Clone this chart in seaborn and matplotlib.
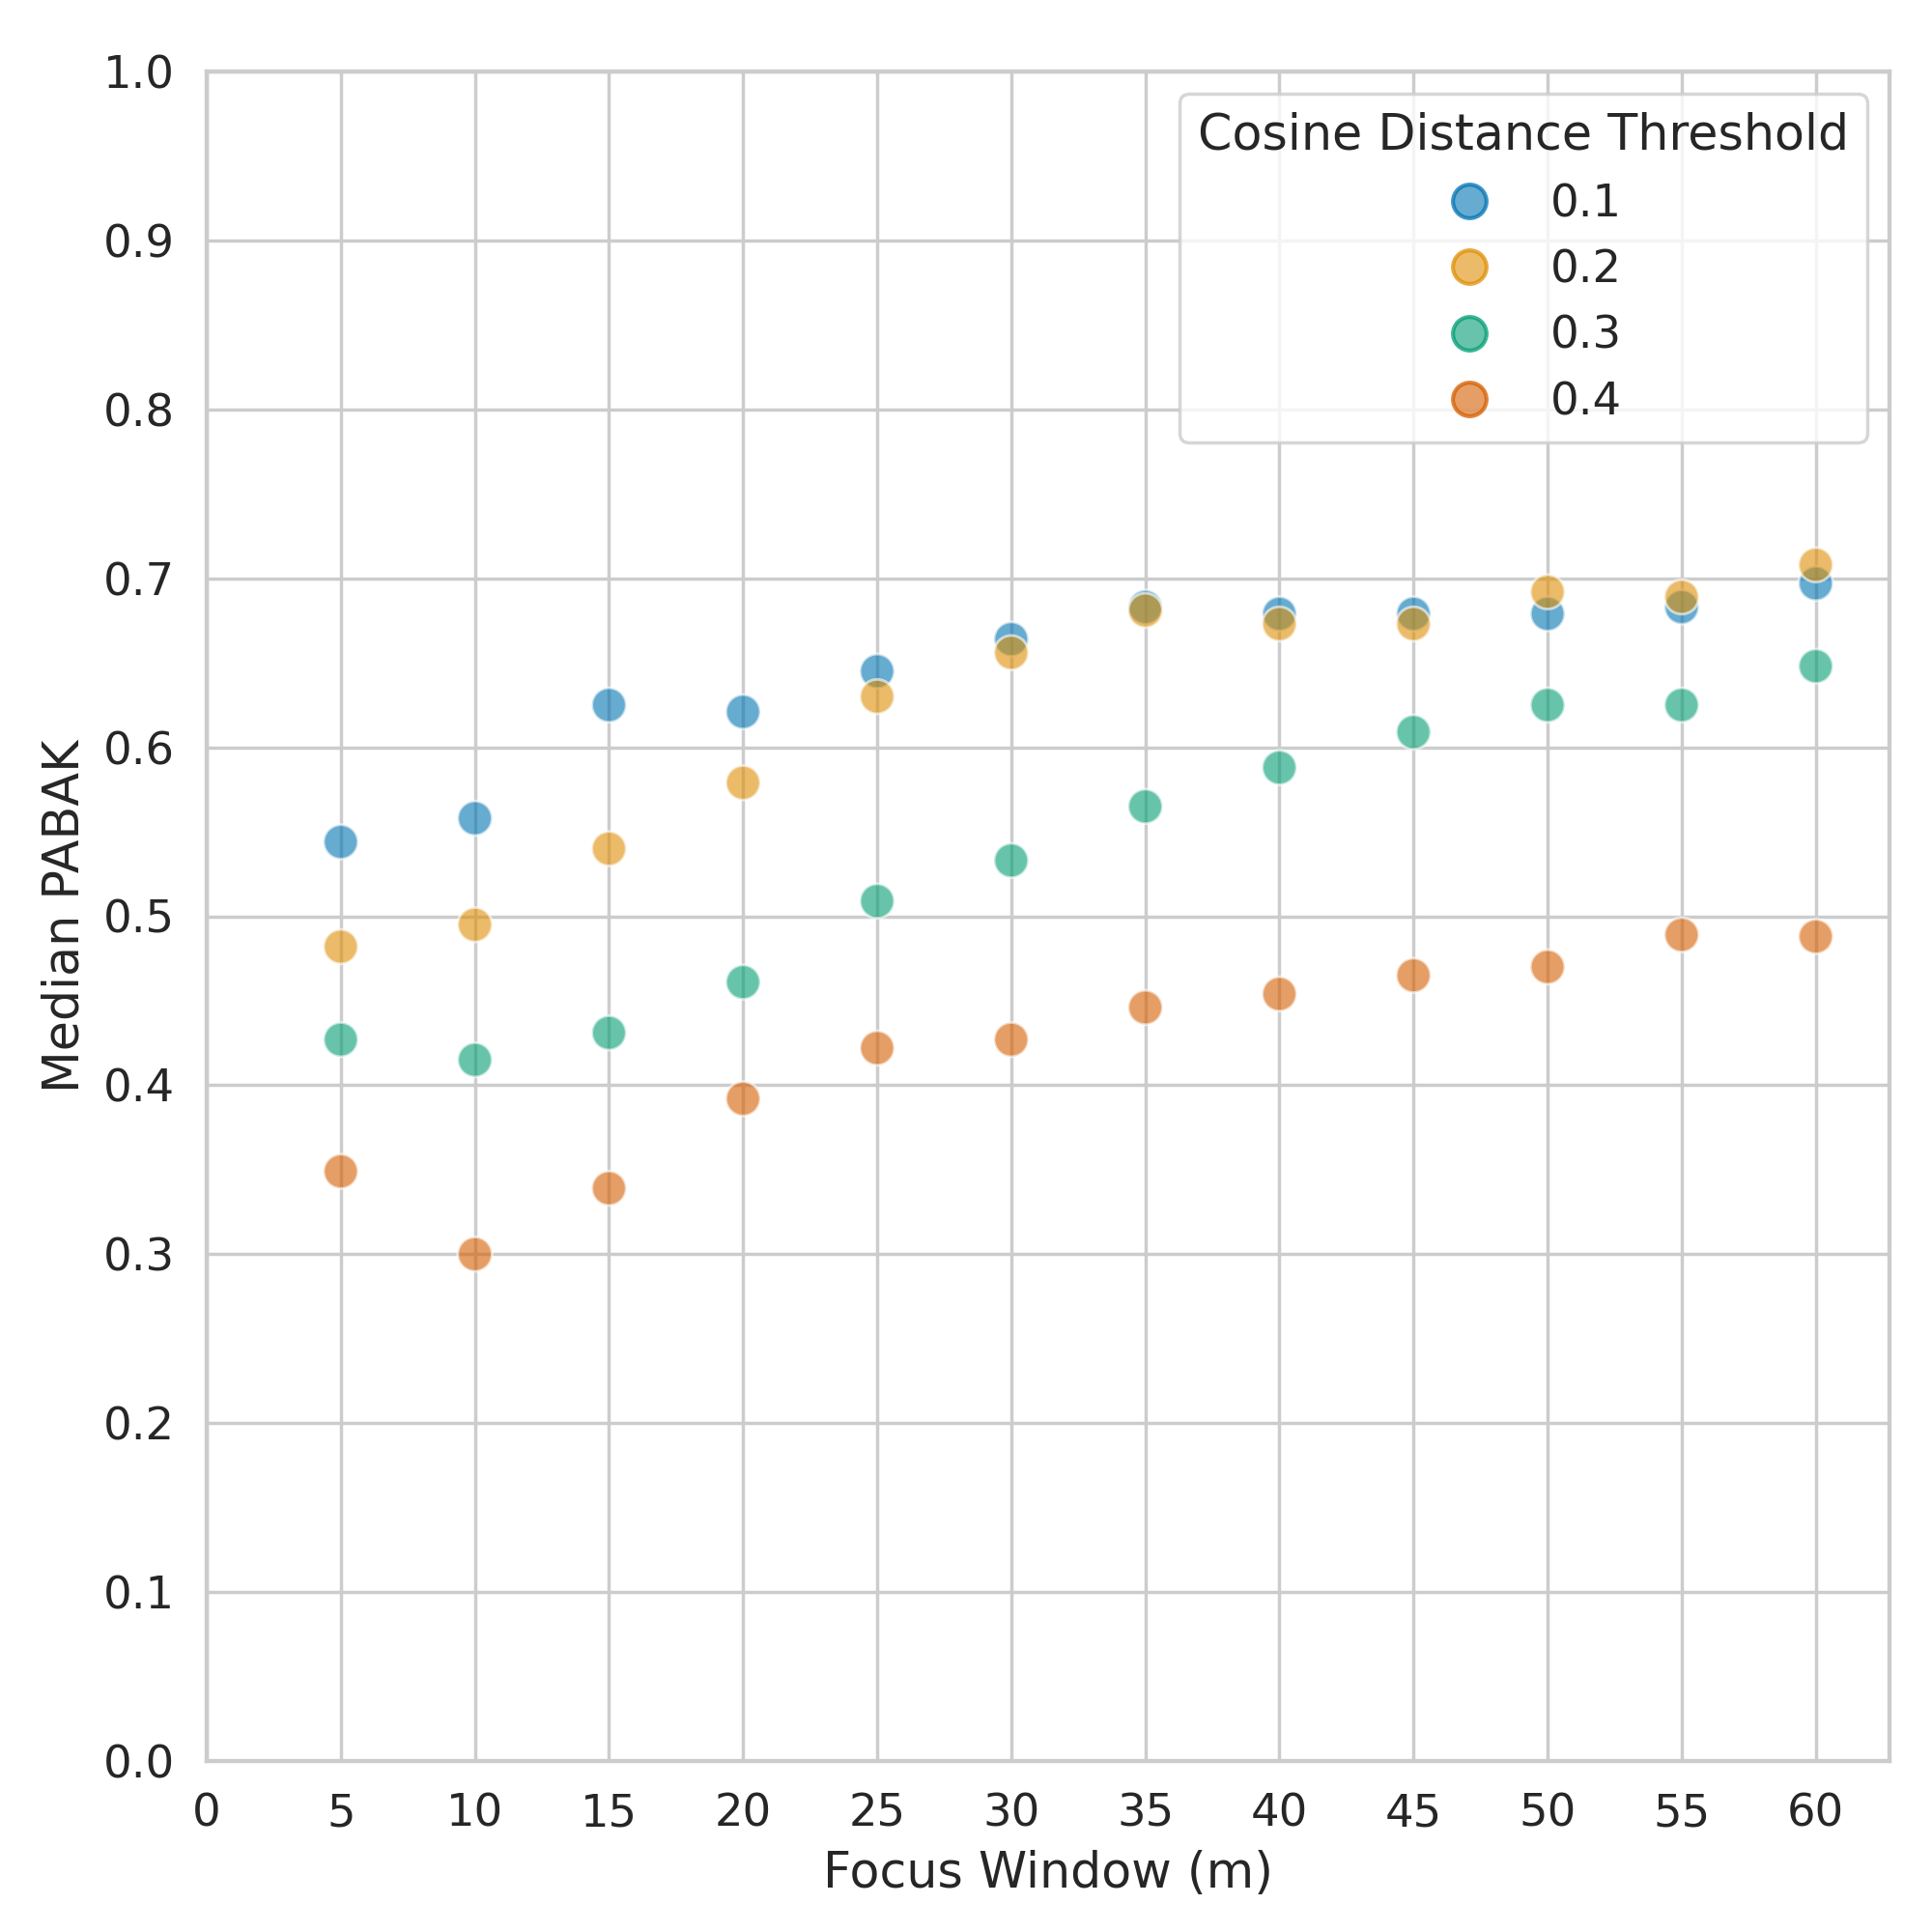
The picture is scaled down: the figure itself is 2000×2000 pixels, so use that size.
import pandas as pd
import numpy as np
import matplotlib.pyplot as plt
import seaborn as sns

# focus windows (minutes)
windows = [5, 10, 15, 20, 25, 30, 35, 40, 45, 50, 55, 60]

# median PABAK per cosine distance threshold
pabak_01 = [0.544, 0.558, 0.625, 0.621, 0.645, 0.664, 0.683, 0.679, 0.679, 0.679, 0.683, 0.697]
pabak_02 = [0.482, 0.495, 0.540, 0.579, 0.630, 0.656, 0.681, 0.673, 0.673, 0.692, 0.689, 0.708]
pabak_03 = [0.427, 0.415, 0.431, 0.461, 0.509, 0.533, 0.565, 0.588, 0.609, 0.625, 0.625, 0.648]
pabak_04 = [0.349, 0.300, 0.339, 0.392, 0.422, 0.427, 0.446, 0.454, 0.465, 0.470, 0.489, 0.488]

thresholds = ['0.1', '0.2', '0.3', '0.4']

rows = []
for thr, vals in zip(thresholds, [pabak_01, pabak_02, pabak_03, pabak_04]):
    for w, v in zip(windows, vals):
        rows.append({'Focus Window (m)': w, 'Median PABAK': v, 'Cosine Distance Threshold': thr})
df = pd.DataFrame(rows)

sns.set_theme(style="whitegrid", font_scale=1.22)
palette = sns.color_palette("colorblind", 4)

fig, ax = plt.subplots(figsize=(8, 8), dpi=250)
sns.scatterplot(data=df, x='Focus Window (m)', y='Median PABAK', hue='Cosine Distance Threshold',
                palette=palette, s=105, alpha=0.6, ax=ax)

ax.set_xlim(left=0)
ax.set_ylim(0, 1)
ax.set_xticks(range(0, 61, 5))
ax.set_yticks(np.arange(0, 1.01, 0.1))

leg = ax.legend(title='Cosine Distance Threshold', loc='upper right')
# legend dots get a solid coloured rim like in the original
for h, c in zip(leg.legend_handles, palette):
    h.set_alpha(None)
    h.set_markerfacecolor((*c, 0.6))
    h.set_markeredgecolor((*c, 0.75))
    h.set_markeredgewidth(1.2)
    h.set_markersize(10)

plt.subplots_adjust(left=0.107, right=0.978, top=0.963, bottom=0.0885)
plt.savefig('out.png')
